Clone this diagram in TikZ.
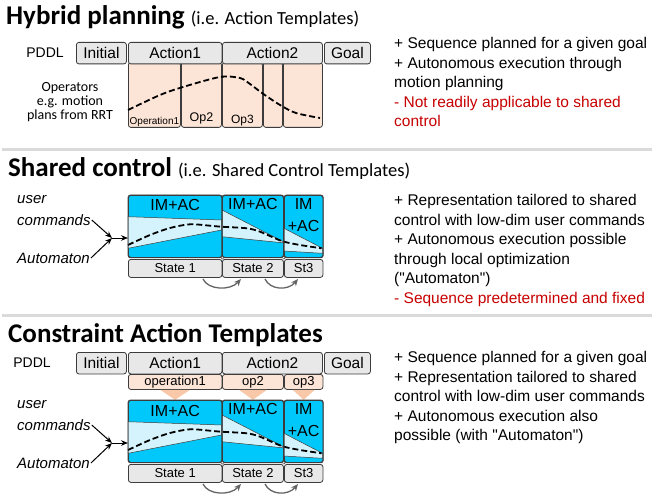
\documentclass[tikz,border=0pt]{standalone}
\usepackage{fontspec}
\setmainfont{Liberation Sans}[Ligatures=TeXOff]
\newfontfamily\calibri{Carlito}
\usetikzlibrary{arrows.meta}

\definecolor{boxline}{RGB}{60,60,60}
\definecolor{boxgrey}{RGB}{232,232,232}
\definecolor{peach}{RGB}{252,228,214}
\definecolor{peachdark}{RGB}{248,200,168}
\definecolor{imac}{RGB}{0,200,250}
\definecolor{band}{RGB}{212,243,252}
\definecolor{minus}{RGB}{200,0,0}
\definecolor{rulegrey}{RGB}{218,218,218}
\definecolor{cyclegrey}{RGB}{100,100,100}

\tikzstyle{cell} = [draw=boxline, line width=0.8pt, rounded corners=2.5pt,
    inner sep=0pt, anchor=north west]
\tikzstyle{pddl} = [cell, fill=boxgrey, minimum height=21.5pt, font=\fontsize{15.5}{16}\selectfont]
\tikzstyle{oper} = [cell, fill=peach]
\tikzstyle{imacbox} = [cell, fill=imac, minimum height=62pt]
\tikzstyle{statebox} = [cell, fill=boxgrey, minimum height=18pt, font=\fontsize{13}{14}\selectfont]
\tikzstyle{title} = [anchor=base west, inner sep=0pt, font=\calibri\bfseries\fontsize{27}{27}\selectfont]
\tikzstyle{pros} = [anchor=north west, inner sep=0pt, align=left, font=\fontsize{15.5}{19.5}\selectfont]
\tikzstyle{userlabel} = [anchor=west, inner sep=0pt, font=\fontsize{15}{15}\selectfont\itshape]
\tikzstyle{feed} = [-{Stealth[length=7pt,width=5.5pt]}, line width=1pt]
\tikzstyle{bandline} = [draw=boxline, line width=0.5pt, fill=band]
\tikzstyle{plan} = [line width=1.8pt, dash pattern=on 6pt off 3pt]
\tikzstyle{stepon} = [draw=cyclegrey, line width=1.3pt, -{Stealth[length=7pt,width=6pt]}]

\begin{document}
\begin{tikzpicture}[x=1pt, y=-1pt]
    \fill[white] (0,0) rectangle (652,494);
    \useasboundingbox (0,0) rectangle (652,494);

    \node[title] (titlea) at (6,25) {Hybrid planning {\mdseries\fontsize{18.5}{18.5}\selectfont(i.e. Action Templates)}};
    \node[title] (titleb) at (8,177) {Shared control {\mdseries\fontsize{18.5}{18.5}\selectfont(i.e. Shared Control Templates)}};
    \node[title] (titlec) at (8,342) {Constraint Action Templates};

    \draw[rulegrey, line width=3pt] (2,150) -- (652,150);
    \draw[rulegrey, line width=3pt] (2,315.5) -- (652,315.5);

    % operators below the first plan
    \node[oper, minimum width=52pt, minimum height=65pt] (opa1) at (128,62) {};
    \node[oper, minimum width=40pt, minimum height=65pt] (opa2) at (181,62) {};
    \node[oper, minimum width=40pt, minimum height=65pt] (opa3) at (222,62) {};
    \node[oper, minimum width=19pt, minimum height=65pt] (opa4) at (263,62) {};
    \node[oper, minimum width=39pt, minimum height=65pt] (opa5) at (283,62) {};
    \node[font=\fontsize{10}{10}\selectfont, anchor=base] at ([yshift=3.5pt]opa1.south) {Operation1};
    \node[font=\fontsize{12.5}{12.5}\selectfont, anchor=base] at ([yshift=6pt]opa2.south) {Op2};
    \node[font=\fontsize{12}{12}\selectfont, anchor=base] at ([yshift=4pt]opa3.south) {Op3};
    \draw[plan] plot[smooth] coordinates {(128,110) (160,95) (183,87) (220,77) (240,78)
        (250,84) (262,93) (280,105) (296,113) (320,118)};
    \node[font=\calibri\fontsize{14}{14}\selectfont, align=center] (operators) at (70,102)
        {Operators\\e.g. motion\\plans from RRT};

    % PDDL rows
    \foreach \s/\n/\px in {0/a/45, 310/c/32}{
        \begin{scope}[shift={(0,\s)}]
            \node[font=\fontsize{14}{14}\selectfont] (pddl\n) at (\px,53) {PDDL};
            \node[pddl, minimum width=50pt] (init\n) at (76,42) {Initial};
            \node[pddl, minimum width=93.5pt] (acta\n) at (128,42) {Action1};
            \node[pddl, minimum width=100pt] (actb\n) at (222,42) {Action2};
            \node[pddl, minimum width=46pt] (goal\n) at (324,42) {Goal};
        \end{scope}
    }

    % operators feeding the templates
    \node[oper, minimum width=93.5pt, minimum height=15pt, font=\fontsize{13}{13}\selectfont] (opc1) at (128,374) {operation1};
    \node[oper, minimum width=61pt, minimum height=15pt, font=\fontsize{13}{13}\selectfont] (opc2) at (222,374) {op2};
    \node[oper, minimum width=38.5pt, minimum height=15pt, font=\fontsize{13}{13}\selectfont] (opc3) at (284,374) {op3};
    \fill[peachdark] ([xshift=-15pt]opc1.south) -- ([xshift=15pt]opc1.south) -- ([yshift=-10pt]opc1.south) -- cycle;
    \fill[peachdark] ([xshift=-14pt]opc2.south) -- ([xshift=14pt]opc2.south) -- ([yshift=-10pt]opc2.south) -- cycle;
    \fill[peachdark] ([xshift=-11pt]opc3.south) -- ([xshift=11pt]opc3.south) -- ([yshift=-10pt]opc3.south) -- cycle;

    % shared control templates
    \foreach \s/\n in {0/b, 205/c}{
        \begin{scope}[shift={(0,\s)}]
            \node[imacbox, minimum width=93.5pt] (imaca\n) at (128,195) {};
            \node[imacbox, minimum width=61pt] (imacb\n) at (222,195) {};
            \node[imacbox, minimum width=38.5pt] (imacc\n) at (284,195) {};
            \draw[bandline] (128,216.7) -- (221.5,220) -- (221.5,230) -- (128,248.3) -- cycle;
            \draw[bandline] (222,210) -- (283,241.5) -- (283,242.8) -- (222,236.7) -- cycle;
            \draw[bandline] (284,228.3) -- (322.5,248.3) -- (322.5,253.3) -- (284,251) -- cycle;
            \draw[plan] plot[smooth] coordinates {(128,245) (150,235) (170,228) (190,224.3)
                (210,225.7) (221,226.7) (246.7,228.3) (260,231.7) (281.7,241) (300,245) (321.7,248.3)};
            \draw[boxline, line width=0.8pt, rounded corners=2.5pt] (imaca\n.north west) rectangle (imaca\n.south east);
            \draw[boxline, line width=0.8pt, rounded corners=2.5pt] (imacb\n.north west) rectangle (imacb\n.south east);
            \draw[boxline, line width=0.8pt, rounded corners=2.5pt] (imacc\n.north west) rectangle (imacc\n.south east);
            \node[font=\fontsize{16}{16}\selectfont, anchor=base] at ([yshift=-16pt]imaca\n.north) {IM+AC};
            \node[font=\fontsize{16}{16}\selectfont, anchor=base] at ([yshift=-14pt]imacb\n.north) {IM+AC};
            \node[font=\fontsize{16}{22}\selectfont, align=center, anchor=north, inner sep=0pt] at ([yshift=-3pt]imacc\n.north) {IM\\+AC};
            \filldraw[fill=white, draw=boxline, line width=0.4pt] (imaca\n.south east) circle (1.4pt);
            \filldraw[fill=white, draw=boxline, line width=0.4pt] (imacb\n.south east) circle (1.4pt);

            \node[statebox, minimum width=93.5pt] (sta\n) at (128,259) {State 1};
            \node[statebox, minimum width=61pt] (stb\n) at (222,259) {State 2};
            \node[statebox, minimum width=38.5pt] (stc\n) at (284,259) {St3};
            \coordinate (froma\n) at (203,279);
            \coordinate (toa\n) at (241,279);
            \coordinate (fromb\n) at (265,279);
            \coordinate (tob\n) at (298,279);
            \draw[stepon] (froma\n) .. controls (208,290) and (230,291) .. (toa\n);
            \draw[stepon] (fromb\n) .. controls (270,290) and (288,291) .. (tob\n);

            \node[userlabel] (user\n) at (17,200) {user};
            \node[userlabel] (cmd\n) at (17,220) {commands};
            \node[userlabel] (auto\n) at (17,258) {Automaton};
            \coordinate (join\n) at (112,238);
            \draw[feed] ([xshift=1pt]cmd\n.east) -- (join\n);
            \draw[feed] ([xshift=1pt]auto\n.east) -- (join\n);
            \draw[feed] (join\n) -- (join\n -| imaca\n.west);
        \end{scope}
    }

    % pros and cons
    \node[pros] (prosa) at (394,37.5) {+ Sequence planned for a given goal\\
        + Autonomous execution through\\
        motion planning\\
        \textcolor{minus}{- Not readily applicable to shared}\\
        \textcolor{minus}{control}};
    \node[pros] (prosb) at (394,194.5) {+ Representation tailored to shared\\
        control with low-dim user commands\\
        + Autonomous execution possible\\
        through local optimization\\
        ("Automaton")\\
        \textcolor{minus}{- Sequence predetermined and fixed}};
    \node[pros] (prosc) at (394,351.5) {+ Sequence planned for a given goal\\
        + Representation tailored to shared\\
        control with low-dim user commands\\
        + Autonomous execution also\\
        possible (with "Automaton")};
\end{tikzpicture}
\end{document}
